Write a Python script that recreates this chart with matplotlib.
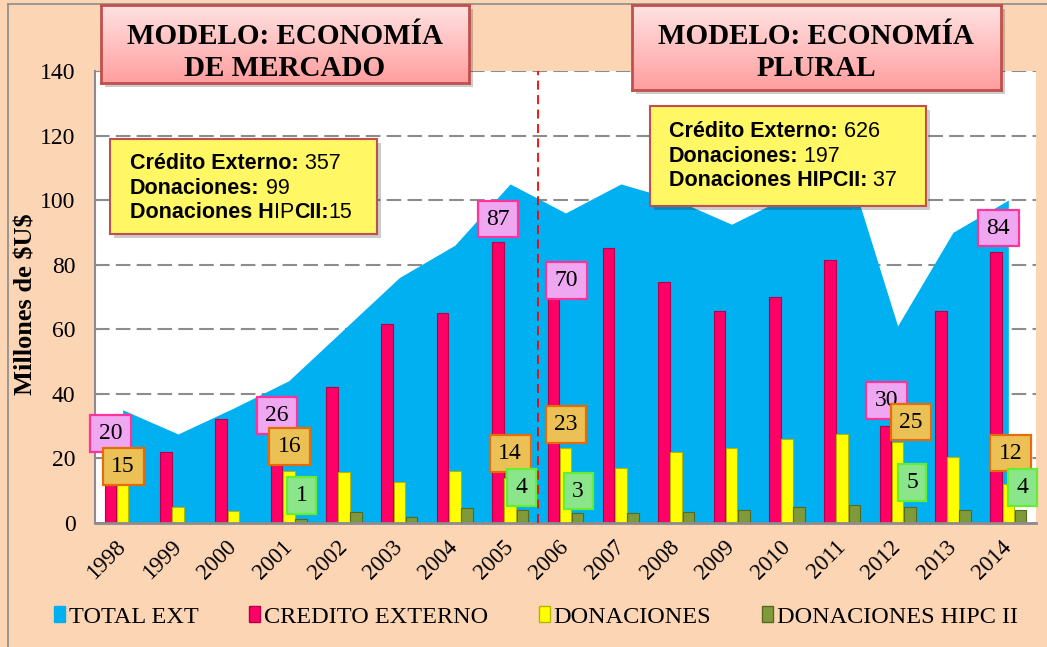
import matplotlib
matplotlib.use("Agg")
import matplotlib.pyplot as plt
import numpy as np
from matplotlib.patches import Rectangle, Patch
from matplotlib.path import Path
from matplotlib.lines import Line2D
from matplotlib.colors import LinearSegmentedColormap

# data (millones de $US)
years = ["1998", "1999", "2000", "2001", "2002", "2003", "2004", "2005", "2006",
         "2007", "2008", "2009", "2010", "2011", "2012", "2013", "2014"]
total_ext = [35, 27.5, 35.5, 44, 60, 76, 86, 105, 96, 105, 100, 92.5, 101, 116, 61, 90, 100]
credito = [20, 22, 32, 26, 42, 61.5, 65, 87, 70, 85, 74.5, 65.5, 70, 81.5, 30, 65.5, 84]
donaciones = [15, 5, 3.7, 16, 15.6, 12.7, 16, 14, 23, 17, 22, 23.2, 26, 27.6, 25, 20.5, 12]
hipc = [0, 0, 0, 1, 3.2, 1.9, 4.5, 4, 3, 2.9, 3.4, 3.8, 5, 5.4, 5, 3.8, 4]

# which bars carry a value tag
credito_tags = [0, 3, 7, 8, 14, 16]
donaciones_tags = [0, 3, 7, 8, 14, 16]
hipc_tags = [3, 7, 8, 14, 16]
# where the tags sit (x shift in categories, y in data units)
credito_tag_pos = [(-0.22, 27.6), (-0.21, 33.2), (-0.22, 94.1), (0.02, 75), (-0.2, 37.8), (-0.18, 91.3)]
donaciones_tag_pos = [(0.01, 17.4), (0.01, 23.6), (0.0, 21.5), (0.01, 30.5), (0.24, 31.2), (0.04, 21.6)]
hipc_tag_pos = [(0.23, 8.5), (0.21, 11), (0.23, 9.8), (0.26, 12.5), (0.26, 11)]

W, H = 1047, 647
SERIF = "Liberation Serif"
SANS = "Liberation Sans"
PEACH = "#FCD5B5"

fig = plt.figure(figsize=(W / 100, H / 100), dpi=100, facecolor=PEACH)
ax = fig.add_axes([95 / W, 1 - 522.7 / H, 941 / W, 451.7 / H])
ax.set_facecolor("white")

x = np.arange(len(years))
ax.fill_between(x, total_ext, color="#00B0F0", linewidth=0, zorder=1)
bw = 0.21
ax.bar(x - 0.22, credito, bw, color="#FF0066", edgecolor="#B3004A", linewidth=0.8, zorder=2)
ax.bar(x, donaciones, bw, color="#FFFF00", edgecolor="#B5B500", linewidth=0.8, zorder=2)
ax.bar(x + 0.22, hipc, bw, color="#7F9A3A", edgecolor="#55691F", linewidth=0.8, zorder=2)

ax.axvline(7.5, color="#FF0000", linestyle=(0, (5, 3)), linewidth=1.3, zorder=3)

ax.set_xlim(-0.5, len(years) - 0.5)
ax.set_ylim(0, 140)
ax.set_yticks(range(0, 141, 20))
ax.set_axisbelow(True)
ax.yaxis.grid(True, color="#8C8C8C", linestyle=(0, (7, 3)), linewidth=1.5)
for s in ["top", "right"]:
    ax.spines[s].set_visible(False)
ax.spines["left"].set_color("#8C8C8C")
ax.spines["left"].set_linewidth(1.5)
ax.spines["bottom"].set_color("#8C8C8C")
ax.spines["bottom"].set_linewidth(2)
ax.tick_params(axis="y", direction="in", length=4, color="#8C8C8C", pad=14, labelsize=17)
ax.tick_params(axis="x", length=0, pad=15, labelsize=16.5)
for lab in ax.get_yticklabels():
    lab.set_fontfamily(SERIF)
ax.set_xticks(x)
ax.set_xticklabels(years, rotation=45, ha="right", va="center", rotation_mode="anchor", fontfamily=SERIF)
ax.set_ylabel("Millones de \\$U\\$", fontfamily=SERIF, fontweight="bold", fontsize=19)
ax.yaxis.set_label_coords(-0.0616, 0.484)


def tag_box(x0, y0, width, height, mutation_size):
    px, py = 0.36 * mutation_size, 0.33 * mutation_size
    x0, y0 = x0 - px, y0 - py
    x1, y1 = x0 + width + 2 * px, y0 + height + 2 * py
    return Path([(x0, y0), (x1, y0), (x1, y1), (x0, y1), (x0, y0)], closed=True)


def put_tags(values, idxs, pos, face, edge):
    for i, (dx, yy) in zip(idxs, pos):
        ax.text(i + dx, yy, f"{round(values[i])}", ha="center", va="center",
                fontsize=17, fontfamily=SERIF, zorder=6,
                bbox=dict(boxstyle=tag_box, facecolor=face, edgecolor=edge, linewidth=1.6))


put_tags(credito, credito_tags, credito_tag_pos, "#EFA7F2", "#FF3399")
put_tags(donaciones, donaciones_tags, donaciones_tag_pos, "#EBC155", "#E46C0A")
put_tags(hipc, hipc_tags, hipc_tag_pos, "#8BE68B", "#66EE33")

# legend
handles = [Patch(facecolor="#00B0F0", edgecolor="#00B0F0", label="TOTAL EXT"),
           Patch(facecolor="#FF0066", edgecolor="#B3004A", label="CREDITO EXTERNO"),
           Patch(facecolor="#FFFF00", edgecolor="#B5B500", label="DONACIONES"),
           Patch(facecolor="#7F9A3A", edgecolor="#55691F", label="DONACIONES HIPC II")]
fig.legend(handles=handles, loc="center", bbox_to_anchor=(536 / W, 1 - 617 / H), ncol=4,
           frameon=False, handlelength=0.45, handleheight=0.65, handletextpad=0.15,
           columnspacing=2.1, prop={"family": SERIF, "size": 17.5})

# outer frame of the original slide
fig.add_artist(Line2D([8 / W, 8 / W], [0, 1 - 4 / H], transform=fig.transFigure, color="#8C8C8C", lw=1.2, zorder=1))
fig.add_artist(Line2D([8 / W, 1], [1 - 4 / H, 1 - 4 / H], transform=fig.transFigure, color="#8C8C8C", lw=1.2, zorder=1))


def fig_rect(x0, y0, x1, y1, **kw):
    return Rectangle((x0 / W, 1 - y1 / H), (x1 - x0) / W, (y1 - y0) / H, transform=fig.transFigure, **kw)


def title_box(x0, y0, x1, y1, lines):
    fig.add_artist(fig_rect(x0 + 4, y0 + 4, x1 + 4, y1 + 4, facecolor="black", alpha=0.2, edgecolor="none", zorder=4))
    bax = fig.add_axes([x0 / W, 1 - y1 / H, (x1 - x0) / W, (y1 - y0) / H], zorder=5)
    cmap = LinearSegmentedColormap.from_list("pinkgrad", ["#FFE2E2", "#FF9E9E"])
    bax.imshow(np.linspace(0, 1, 100)[:, None], aspect="auto", cmap=cmap, extent=[0, 1, 0, 1])
    bax.set_xticks([])
    bax.set_yticks([])
    for s in bax.spines.values():
        s.set_color("#C0504D")
        s.set_linewidth(2)
    cx = (x0 + x1) / 2
    for txt, base in zip(lines, [43.5, 75.5]):
        fig.text(cx / W, 1 - base / H, txt, ha="center", va="baseline", fontsize=21,
                 fontweight="bold", fontfamily=SERIF, zorder=6)


title_box(101, 5, 469, 83, ["MODELO: ECONOMÍA", "DE MERCADO"])
title_box(632, 5, 1001, 90, ["MODELO: ECONOMÍA", "PLURAL"])

renderer = fig.canvas.get_renderer()


def info_box(x0, y0, x1, y1, tx, base0, lines):
    fig.add_artist(fig_rect(x0 + 4, y0 + 4, x1 + 4, y1 + 4, facecolor="black", alpha=0.2, edgecolor="none", zorder=4))
    fig.add_artist(fig_rect(x0, y0, x1, y1, facecolor="#FFF764", edgecolor="#C0504D", lw=1.5, zorder=5))
    for k, runs in enumerate(lines):
        xx = tx
        base = base0 + k * 24.5
        for txt, weight in runs:
            t = fig.text(xx / W, 1 - base / H, txt, ha="left", va="baseline", fontsize=15.5,
                         fontweight=weight, fontfamily=SANS, zorder=6)
            xx += t.get_window_extent(renderer).width


info_box(110, 139, 377, 234, 130, 169,
         [[("Crédito Externo:", "bold"), (" 357", "normal")],
          [("Donaciones:", "bold"), (" 99", "normal")],
          [("Donaciones H", "bold"), ("IP", "normal"), ("CII:", "bold"), ("15", "normal")]])
info_box(650, 106, 926, 206, 669, 137,
         [[("Crédito Externo:", "bold"), (" 626", "normal")],
          [("Donaciones:", "bold"), (" 197", "normal")],
          [("Donaciones HIPCII:", "bold"), (" 37", "normal")]])

fig.savefig("out.png", dpi=100, facecolor=fig.get_facecolor())
